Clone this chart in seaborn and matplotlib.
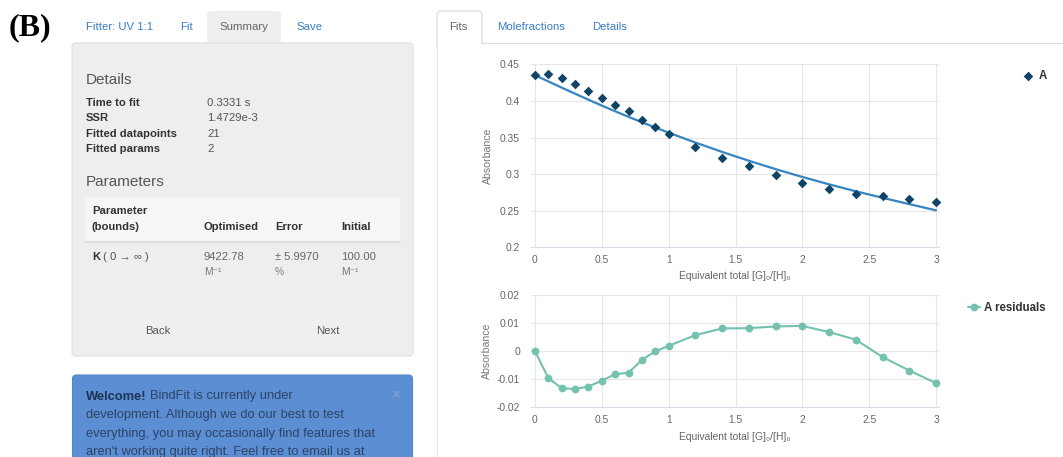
import matplotlib
matplotlib.use("Agg")
import matplotlib.pyplot as plt
from matplotlib.patches import FancyBboxPatch, Rectangle
import seaborn as sns
import pandas as pd

# ---------------- data ----------------
equivalents = [0, 0.1, 0.2, 0.3, 0.4, 0.5, 0.6, 0.7, 0.8, 0.9, 1.0,
               1.2, 1.4, 1.6, 1.8, 2.0, 2.2, 2.4, 2.6, 2.8, 3.0]
absorbance_A = [0.435, 0.4363, 0.431, 0.423, 0.414, 0.404, 0.394, 0.386, 0.374, 0.364, 0.355,
                0.3375, 0.3224, 0.311, 0.2988, 0.2878, 0.2797, 0.2732, 0.270, 0.266, 0.2619]
fit_A = [0.4350, 0.4266, 0.4181, 0.4098, 0.4016, 0.3936, 0.3858, 0.3782, 0.3708, 0.3636, 0.3566,
         0.3431, 0.3303, 0.3182, 0.3068, 0.2961, 0.2860, 0.2765, 0.2676, 0.2590, 0.2505]
residuals_A = [0.0, -0.0096, -0.0132, -0.0135, -0.0126, -0.0105, -0.0082, -0.0077, -0.0031, -0.0001, 0.0019,
               0.0057, 0.0081, 0.0082, 0.0088, 0.0090, 0.0068, 0.0041, -0.0021, -0.0069, -0.0114]

xticks = [0, 0.5, 1, 1.5, 2, 2.5, 3]
xtick_labels = ["0", "0.5", "1", "1.5", "2", "2.5", "3"]
fit_yticks = [0.2, 0.25, 0.3, 0.35, 0.4, 0.45]
fit_ytick_labels = ["0.2", "0.25", "0.3", "0.35", "0.4", "0.45"]
res_yticks = [-0.02, -0.01, 0, 0.01, 0.02]
res_ytick_labels = ["-0.02", "-0.01", "0", "0.01", "0.02"]

detail_labels = ["Time to fit", "SSR", "Fitted datapoints", "Fitted params"]
detail_values = ["0.3331 s", "1.4729e-3", "21", "2"]
alert_lines = ["development. Although we do our best to test",
               "everything, you may occasionally find features that",
               "aren't working quite right. Feel free to email us at"]

df = pd.DataFrame({"x": equivalents, "A": absorbance_A, "fit": fit_A, "res": residuals_A})

# ---------------- style ----------------
sns.set_theme(style="white")
plt.rcParams["font.family"] = ["Liberation Sans", "DejaVu Sans"]
FAM = ["Liberation Sans", "DejaVu Sans"]

W, H = 1063, 457
fig = plt.figure(figsize=(W / 100, H / 100), dpi=100)
fig.patch.set_facecolor("white")

# background axes in pixel coordinates for the web-UI parts
bg = fig.add_axes([0, 0, 1, 1])
bg.set_xlim(0, W)
bg.set_ylim(H, 0)
bg.axis("off")

def T(x, y, s, **kw):
    kw.setdefault("va", "center")
    kw.setdefault("family", FAM)
    return bg.text(x, y, s, **kw)

LINK = "#3a7bc8"
# (B)
T(9, 27.5, "(B)", family=["Liberation Serif", "DejaVu Serif"], weight="bold", fontsize=23, color="black")

# left tabs
bg.add_patch(FancyBboxPatch((207, 11), 74, 40, boxstyle="round,pad=0,rounding_size=4",
                            fc="#eeeeee", ec="none"))
T(86, 27, "Fitter: UV 1:1", fontsize=8.2, color=LINK)
T(180, 27, "Fit", fontsize=8.2, color=LINK)
T(244, 27, "Summary", fontsize=8.2, color="#666666", ha="center")
T(296, 27, "Save", fontsize=8.2, color=LINK)

# gray panel
bg.add_patch(FancyBboxPatch((72, 43), 341, 313, boxstyle="round,pad=0,rounding_size=4",
                            fc="#eeeeee", ec="#e0e0e0", lw=0.8))
HEAD = ["Liberation Sans Narrow", "Liberation Sans", "DejaVu Sans"]
T(86, 80, "Details", family=HEAD, fontsize=11, color="#555555")
for i, (lab, val) in enumerate(zip(detail_labels, detail_values)):
    y = [102.7, 117.7, 134.0, 149.3][i]
    T(86, y, lab, fontsize=8.1, weight="bold", color="#333333")
    T(207, y, val, fontsize=8.1, color="#555555")
T(86, 182, "Parameters", family=HEAD, fontsize=11, color="#555555")

# table
bg.add_patch(Rectangle((85, 197), 315, 45, fc="#f6f6f6", ec="none"))
bg.plot([85, 400], [242, 242], color="#dadada", lw=1.2)
T(92, 211, "Parameter", fontsize=8.1, weight="bold", color="#333333")
T(92, 226.7, "(bounds)", fontsize=8.1, weight="bold", color="#333333")
T(204, 226.7, "Optimised", fontsize=8.1, weight="bold", color="#333333")
T(275, 226.7, "Error", fontsize=8.1, weight="bold", color="#333333")
T(341, 226.7, "Initial", fontsize=8.1, weight="bold", color="#333333")
T(92, 256.7, "K", fontsize=8.1, weight="bold", color="#333333")
T(103, 256.7, "( 0 \u2192 \u221e )", fontsize=8.1, color="#555555")
T(204, 256.7, "9422.78", fontsize=8.1, color="#666666")
T(204, 272, "M\u207b\u00b9", fontsize=7.4, color="#777777")
T(275, 256.7, "\u00b1 5.9970", fontsize=8.1, color="#666666")
T(275, 272, "%", fontsize=7.4, color="#777777")
T(341, 256.7, "100.00", fontsize=8.1, color="#666666")
T(341, 272, "M\u207b\u00b9", fontsize=7.4, color="#777777")

# buttons
bg.add_patch(Rectangle((87, 316), 143, 28, fc="#efefef", ec="none"))
bg.add_patch(Rectangle((257, 316), 141, 28, fc="#efefef", ec="none"))
T(158, 331, "Back", fontsize=8.2, color="#555555", ha="center")
T(328, 331, "Next", fontsize=8.2, color="#555555", ha="center")

# alert box
bg.add_patch(FancyBboxPatch((72.5, 375), 340, 100, boxstyle="round,pad=0,rounding_size=4",
                            fc="#5b8ed2", ec="#5386cc", lw=0.8))
t_bold = T(86, 396.5, "Welcome!", fontsize=9.3, weight="bold", color="#1d3354")
T(150, 396.5, "BindFit is currently under", fontsize=9.3, color="#2c4466")
for i, line in enumerate(alert_lines):
    T(86, 415 + 18.5 * i, line, fontsize=9.3, color="#2c4466")
T(396, 395, "\u00d7", fontsize=11, color="#86a7d8", ha="center")

# right tabs
bg.add_patch(FancyBboxPatch((437, 11), 45, 40, boxstyle="round,pad=0,rounding_size=4",
                            fc="white", ec="#dddddd", lw=0.9))
bg.add_patch(Rectangle((437.8, 43.6), 45, 10, fc="white", ec="none", zorder=3))
bg.plot([482, W], [43, 43], color="#dddddd", lw=0.9)
bg.plot([437, 437], [43, H], color="#e4e4e4", lw=0.9)
T(458, 27, "Fits", fontsize=8.2, color="#666666", ha="center")
T(497, 27, "Molefractions", fontsize=8.2, color=LINK)
T(592, 27, "Details", fontsize=8.2, color=LINK)

# ---------------- charts ----------------
def px_axes(left, top, right, bottom):
    return fig.add_axes([left / W, 1 - bottom / H, (right - left) / W, (bottom - top) / H])

XL, XR = 531, 939
x0px, x3px = 535, 936
scale = (x3px - x0px) / 3.0
xlim = (-(x0px - XL) / scale, 3 + (XR - x3px) / scale)

TICK_C = "#666666"
GRID_C = "#e6e6e6"
C_DATA = "#0f4466"
C_FIT = "#3585c2"
C_RES = "#74c1b0"

def style(ax, yticks, ylabels, ylim, xlab_y, ylab_x):
    ax.set_facecolor("none")
    ax.set_xlim(*xlim)
    ax.set_ylim(*ylim)
    ax.set_xticks(xticks)
    ax.set_xticklabels(xtick_labels)
    ax.set_yticks(yticks)
    ax.set_yticklabels(ylabels)
    ax.grid(True, color=GRID_C, lw=0.8)
    ax.set_axisbelow(True)
    for s in ["top", "right", "left"]:
        ax.spines[s].set_visible(False)
    ax.spines["bottom"].set_color("#d6dce8")
    ax.spines["bottom"].set_linewidth(0.8)
    ax.tick_params(axis="both", length=0, labelsize=7.4, labelcolor=TICK_C)
    ax.tick_params(axis="y", pad=8)
    ax.tick_params(axis="x", pad=5.2)
    ax.set_xlabel("Equivalent total [G]\u2080/[H]\u2080", fontsize=7.4, color="#666666")
    ax.set_ylabel("Absorbance", fontsize=7.6, color="#777777")
    ax.xaxis.set_label_coords(0.5, xlab_y)
    ax.yaxis.set_label_coords(ylab_x, 0.5)
    ax.xaxis.label.set_va("center")
    ax.yaxis.label.set_va("center")

# fit chart
ax1 = px_axes(XL, 64.3, XR, 247.3)
sns.lineplot(data=df, x="x", y="fit", ax=ax1, color=C_FIT, lw=1.6, zorder=2)
sns.scatterplot(data=df, x="x", y="A", ax=ax1, marker="D", s=24, color=C_DATA,
                edgecolor=C_DATA, linewidth=0, label="A", zorder=3, clip_on=False)
style(ax1, fit_yticks, fit_ytick_labels, (0.2, 0.45),
      -(275.7 - 247.3) / (247.3 - 64.3), (488 - XL) / (XR - XL))
h, l = ax1.get_legend_handles_labels()
fs_leg = 8.3
ax1.legend(h, l, loc="center left", bbox_to_anchor=(1023.4 / W, 1 - 76 / H),
           bbox_transform=fig.transFigure, frameon=False, borderpad=0, borderaxespad=0,
           handlelength=0.8, handletextpad=0.5, markerscale=1.0,
           prop={"weight": "bold", "size": fs_leg, "family": FAM}, labelcolor="#333333")

# residual chart
ax2 = px_axes(XL, 295, XR, 407.3)
sns.lineplot(data=df, x="x", y="res", ax=ax2, color=C_RES, lw=1.5, marker="o",
             markersize=5.6, markeredgewidth=0, label="A residuals", zorder=3, clip_on=False)
style(ax2, res_yticks, res_ytick_labels, (-0.02, 0.02),
      -(436.7 - 407.3) / (407.3 - 295), (486.5 - XL) / (XR - XL))
h, l = ax2.get_legend_handles_labels()
ax2.legend(h, l, loc="center left", bbox_to_anchor=(968 / W, 1 - 308 / H),
           bbox_transform=fig.transFigure, frameon=False, borderpad=0, borderaxespad=0,
           handlelength=1.05, handletextpad=0.35,
           prop={"weight": "bold", "size": fs_leg, "family": FAM}, labelcolor="#333333")

fig.savefig("out.png", dpi=100, facecolor="white")
